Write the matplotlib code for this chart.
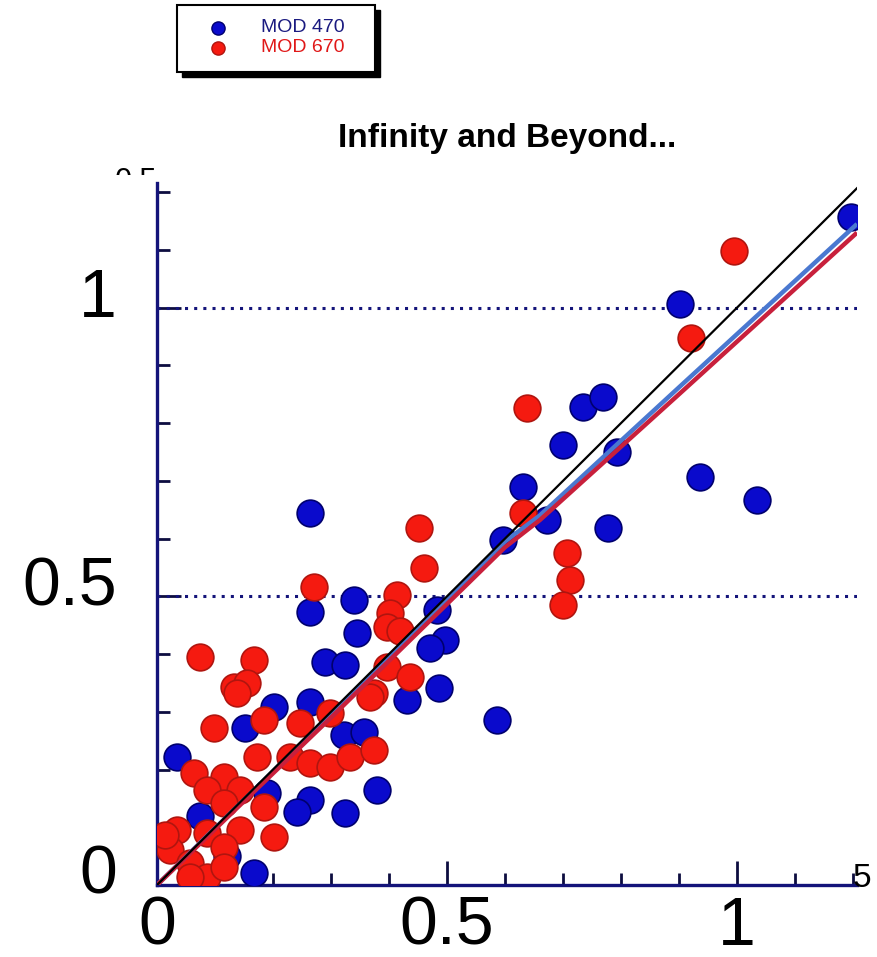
import numpy as np
import matplotlib
matplotlib.use("Agg")
import matplotlib.pyplot as plt
from matplotlib.lines import Line2D
from matplotlib.patches import Rectangle
from matplotlib.transforms import ScaledTranslation, Bbox

plt.rcParams['font.family'] = ['Liberation Sans', 'DejaVu Sans']

# MOD 470 (blue) points
blue_x = [0.902, 1.197, 0.734, 0.769, 0.700, 0.793, 0.936, 1.034, 0.778, 0.631,
          0.672, 0.597, 0.586, 0.264, 0.264, 0.340, 0.345, 0.290, 0.324, 0.483,
          0.497, 0.471, 0.486, 0.431, 0.264, 0.202, 0.152, 0.034, 0.322, 0.357,
          0.264, 0.241, 0.324, 0.379, 0.167, 0.074, 0.190, 0.120]
blue_y = [1.006, 1.157, 0.828, 0.845, 0.762, 0.750, 0.707, 0.667, 0.618, 0.689,
          0.632, 0.597, 0.286, 0.644, 0.473, 0.494, 0.436, 0.386, 0.381, 0.476,
          0.424, 0.410, 0.341, 0.320, 0.317, 0.308, 0.272, 0.222, 0.260, 0.265,
          0.147, 0.126, 0.125, 0.165, 0.021, 0.120, 0.160, 0.050]

# MOD 670 (red) points
red_x = [0.995, 0.921, 0.638, 0.631, 0.707, 0.712, 0.700, 0.452, 0.460, 0.271,
         0.414, 0.402, 0.397, 0.419, 0.074, 0.167, 0.133, 0.155, 0.397, 0.436,
         0.374, 0.138, 0.098, 0.184, 0.247, 0.298, 0.367, 0.229, 0.264, 0.298,
         0.333, 0.374, 0.172, 0.064, 0.116, 0.086, 0.143, 0.116, 0.184, 0.034,
         0.086, 0.143, 0.202, 0.116, 0.022, 0.057, 0.086, 0.057, 0.116, 0.014]
red_y = [1.098, 0.947, 0.826, 0.644, 0.575, 0.528, 0.485, 0.618, 0.549, 0.516,
         0.502, 0.471, 0.447, 0.440, 0.395, 0.390, 0.343, 0.350, 0.378, 0.360,
         0.332, 0.332, 0.272, 0.286, 0.281, 0.298, 0.326, 0.222, 0.211, 0.204,
         0.222, 0.234, 0.222, 0.194, 0.187, 0.165, 0.165, 0.142, 0.135, 0.095,
         0.090, 0.095, 0.083, 0.066, 0.060, 0.038, 0.014, 0.014, 0.031, 0.087]

# fitted / running lines
blue_line_x = [0.0, 0.30, 0.60, 0.66, 0.90, 1.207]
blue_line_y = [0.0, 0.295, 0.595, 0.640, 0.862, 1.145]
red_line_x = [0.0, 0.30, 0.60, 0.66, 0.90, 1.207]
red_line_y = [0.0, 0.290, 0.585, 0.632, 0.850, 1.130]

x_ticks = [0, 0.5, 1]
x_labels = ['0', '0.5', '1']
y_ticks = [0, 0.5, 1]
y_labels = ['0', '0.5', '1']

navy = '#14147a'

fig = plt.figure(figsize=(8.77, 9.57), dpi=100)
ax = fig.add_axes([157/877, 72/957, 700/877, 702/957])

ax.scatter(blue_x, blue_y, s=370, c='#0a0acc', edgecolors='#00006e', linewidths=1.2, zorder=3)
ax.scatter(red_x, red_y, s=370, c='#f51a10', edgecolors='#b0150f', linewidths=1.2, zorder=4)

ax.plot([0, 1.25], [0, 1.25], color='black', lw=1.6, zorder=6)
ax.plot(blue_line_x, blue_line_y, color='#4a78d0', lw=3.2, zorder=5, solid_capstyle='butt')
ax.plot(red_line_x, red_line_y, color='#c8203c', lw=3.2, zorder=5, solid_capstyle='butt')

for yv in [0.5, 1.0]:
    ax.axhline(yv, color=navy, lw=2.2, linestyle=(0, (1, 2)), zorder=2)

ax.set_xlim(0, 1.207)
ax.set_ylim(0, 1.216)

for s in ['top', 'right']:
    ax.spines[s].set_visible(False)
for s in ['left', 'bottom']:
    ax.spines[s].set_color(navy)
    ax.spines[s].set_linewidth(2.4)

ax.set_xticks(x_ticks)
ax.set_xticklabels(x_labels)
ax.set_yticks(y_ticks)
ax.set_yticklabels(y_labels)
ax.set_xticks(np.arange(0, 1.21, 0.1), minor=True)
ax.set_yticks(np.arange(0, 1.21, 0.1), minor=True)
ax.tick_params(which='major', direction='in', length=17, width=2, color='#0d0d40',
               labelsize=49, labelcolor='black')
ax.tick_params(which='minor', direction='in', length=9, width=2, color='#0d0d40')
ax.tick_params(axis='x', which='major', pad=7)
ax.tick_params(axis='y', which='major', pad=29)

off = ScaledTranslation(0, 16/100, fig.dpi_scale_trans)
for lab in ax.get_yticklabels():
    lab.set_transform(lab.get_transform() + off)

ax.set_title('Infinity and Beyond...', fontsize=24, fontweight='bold', pad=26)

# clipped stray labels
t = fig.text(157/877, 1 - 182/957, '0.5', fontsize=22, ha='right', va='center')
t.set_clip_box(Bbox.from_extents(0, 957 - 175, 877, 957))
t.set_clip_on(True)
fig.text(853/877, 1 - 887/957, '5', fontsize=24, ha='left', va='baseline')

# legend box with black shadow
fig.add_artist(Rectangle((182/877, 1 - 77/957), 198/877, 67/957, transform=fig.transFigure,
                         facecolor='black', edgecolor='black', zorder=10))
fig.add_artist(Rectangle((177/877, 1 - 72/957), 198/877, 67/957, transform=fig.transFigure,
                         facecolor='white', edgecolor='black', lw=1.5, zorder=11))
for yy, fc, ec, lab, tc in [(28, '#0a0acc', '#00006e', 'MOD 470', '#1a1a80'),
                             (48, '#f51a10', '#b0150f', 'MOD 670', '#e01818')]:
    fig.add_artist(Line2D([218/877], [1 - yy/957], marker='o', markersize=9.5, color=fc,
                          markeredgecolor=ec, transform=fig.transFigure, zorder=12))
    fig.text(261/877, 1 - yy/957, lab, fontsize=14, color=tc, ha='left', va='center', zorder=12)

fig.savefig('out.png', dpi=100, facecolor='white')
